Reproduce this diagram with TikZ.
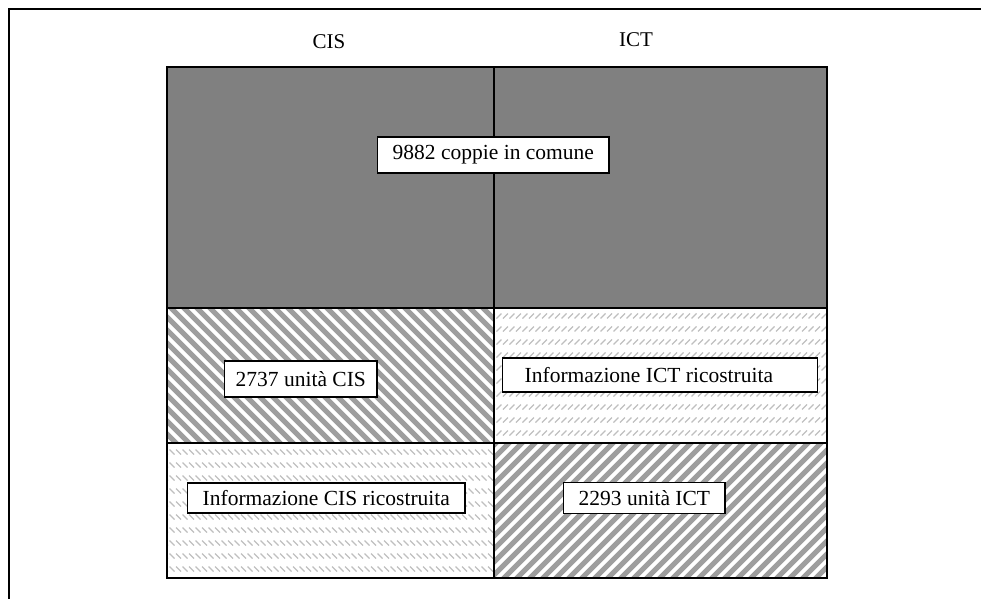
\documentclass[tikz,border=0pt]{standalone}
\usepackage{fontspec}
\setmainfont{Liberation Serif}
\begin{document}
\begin{tikzpicture}[x=1pt,y=-1pt,
 lbl/.style={font=\fontsize{21}{25}\selectfont, inner sep=0pt, anchor=base},
 tbox/.style={draw=black, line width=1.4pt, fill=white, font=\fontsize{21.5}{25}\selectfont, inner xsep=15pt, minimum height=36pt, anchor=west},
 gridline/.style={line width=1.8pt, black},
 wide/.style={line width=5pt, color=black!38},
 lite/.style={line width=1.1pt, color=black!25},
]
\useasboundingbox (0,0) rectangle (981,598);
% outer frame (continues beyond right and bottom edges)
\draw[line width=2pt] (9,620) -- (9,9) -- (1000,9);
% top region
\fill[black!50] (167,67) rectangle (827,308);
% middle-left: wide "\" stripes
\begin{scope}
\clip (167,308) rectangle (494,443);
\foreach \x in {20,33,...,500} \draw[wide] (\x,300) -- ++(150,150);
\end{scope}
% bottom-right: wide "/" stripes
\begin{scope}
\clip (494,443) rectangle (827,578);
\foreach \x in {340,353,...,830} \draw[wide] (\x,586) -- ++(150,-150);
\end{scope}
% middle-right: light "/" dash rows
\begin{scope}
\clip (494,308) rectangle (827,443);
\foreach \y in {316,329,...,445} \foreach \x in {490,496.5,...,830} \draw[lite] (\x,\y+2.5) -- ++(5,-5);
\end{scope}
% bottom-left: light "\" dash rows
\begin{scope}
\clip (167,443) rectangle (494,578);
\foreach \y in {452,465,...,580} \foreach \x in {163,169.5,...,500} \draw[lite] (\x,\y-2.5) -- ++(5,5);
\end{scope}
% grid lines
\draw[gridline] (167,67) rectangle (827,578);
\draw[gridline] (494,67) -- (494,578);
\draw[gridline] (167,308) -- (827,308);
\draw[gridline] (167,443) -- (827,443);
% headers
\node[lbl] (cis) at (329,48) {CIS};
\node[lbl] (ict) at (636,46) {ICT};
% boxes
\node[tbox] (common) at (377,155) {9882 coppie in comune};
\node[tbox, inner xsep=11pt] (cisu) at (224,379) {2737 unità CIS};
\node[tbox, inner xsep=22pt, text width=271pt, align=flush left, minimum height=34pt] (ictr) at (502,375) {Informazione ICT ricostruita};
\node[tbox, minimum height=30pt] (cisr) at (187,498) {Informazione CIS ricostruita};
\node[tbox, minimum height=31pt] (ictu) at (563,498) {2293 unità ICT};
\end{tikzpicture}
\end{document}
